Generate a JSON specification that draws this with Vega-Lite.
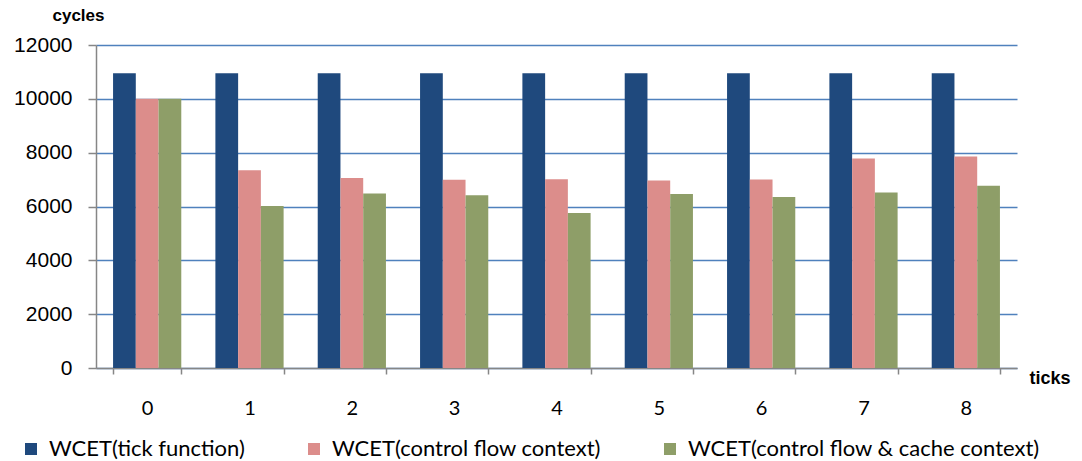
{
  "$schema": "https://vega.github.io/schema/vega-lite/v6.json",
  "width": 921,
  "height": 323,
  "autosize": "none",
  "padding": {"left": 96, "top": 45, "right": 65, "bottom": 93},
  "background": "white",
  "config": {"view": {"stroke": null}, "font": "Liberation Sans"},
  "data": {
    "values": [
      {"tick": "0", "series": "WCET(tick function)", "value": 10950},
      {"tick": "0", "series": "WCET(control flow context)", "value": 10000},
      {"tick": "0", "series": "WCET(control flow & cache context)", "value": 10000},
      {"tick": "1", "series": "WCET(tick function)", "value": 10950},
      {"tick": "1", "series": "WCET(control flow context)", "value": 7350},
      {"tick": "1", "series": "WCET(control flow & cache context)", "value": 6020},
      {"tick": "2", "series": "WCET(tick function)", "value": 10950},
      {"tick": "2", "series": "WCET(control flow context)", "value": 7060},
      {"tick": "2", "series": "WCET(control flow & cache context)", "value": 6480},
      {"tick": "3", "series": "WCET(tick function)", "value": 10950},
      {"tick": "3", "series": "WCET(control flow context)", "value": 6990},
      {"tick": "3", "series": "WCET(control flow & cache context)", "value": 6420},
      {"tick": "4", "series": "WCET(tick function)", "value": 10950},
      {"tick": "4", "series": "WCET(control flow context)", "value": 7010},
      {"tick": "4", "series": "WCET(control flow & cache context)", "value": 5760},
      {"tick": "5", "series": "WCET(tick function)", "value": 10950},
      {"tick": "5", "series": "WCET(control flow context)", "value": 6970},
      {"tick": "5", "series": "WCET(control flow & cache context)", "value": 6460},
      {"tick": "6", "series": "WCET(tick function)", "value": 10950},
      {"tick": "6", "series": "WCET(control flow context)", "value": 7000},
      {"tick": "6", "series": "WCET(control flow & cache context)", "value": 6350},
      {"tick": "7", "series": "WCET(tick function)", "value": 10950},
      {"tick": "7", "series": "WCET(control flow context)", "value": 7780},
      {"tick": "7", "series": "WCET(control flow & cache context)", "value": 6520},
      {"tick": "8", "series": "WCET(tick function)", "value": 10950},
      {"tick": "8", "series": "WCET(control flow context)", "value": 7860},
      {"tick": "8", "series": "WCET(control flow & cache context)", "value": 6770}
    ]
  },
  "mark": {"type": "bar"},
  "encoding": {
    "x": {
      "field": "tick",
      "type": "ordinal",
      "scale": {"paddingInner": 0.3333, "paddingOuter": 0.1667},
      "axis": {
        "title": "ticks",
        "labelAngle": 0,
        "tickBand": "extent",
        "domainColor": "#868686",
        "domainWidth": 1.5,
        "tickColor": "#868686",
        "tickWidth": 1.5,
        "tickSize": 6,
        "labelFont": "Lato",
        "labelFontSize": 20,
        "labelColor": "#000000",
        "labelPadding": 24,
        "titleFont": "Liberation Sans",
        "titleFontWeight": "bold",
        "titleFontSize": 18,
        "titleColor": "#000000",
        "titleAlign": "left",
        "titleBaseline": "alphabetic",
        "titleX": 933,
        "titleY": 15
      }
    },
    "xOffset": {
      "field": "series",
      "sort": ["WCET(tick function)", "WCET(control flow context)", "WCET(control flow & cache context)"]
    },
    "y": {
      "field": "value",
      "type": "quantitative",
      "scale": {"domain": [0, 12000], "nice": false},
      "axis": {
        "values": [0, 2000, 4000, 6000, 8000, 10000, 12000],
        "format": "d",
        "title": "cycles",
        "titleAngle": 0,
        "titleFont": "Liberation Sans",
        "titleFontWeight": "bold",
        "titleFontSize": 17,
        "titleColor": "#000000",
        "titleAlign": "center",
        "titleBaseline": "alphabetic",
        "titleX": -18,
        "titleY": -25,
        "gridColor": "#4F81BD",
        "gridWidth": 1.5,
        "domainColor": "#868686",
        "domainWidth": 1.5,
        "tickColor": "#868686",
        "tickWidth": 1.5,
        "tickSize": 8,
        "labelFont": "Liberation Sans",
        "labelFontSize": 21,
        "labelColor": "#000000",
        "labelPadding": 16
      }
    },
    "color": {
      "field": "series",
      "type": "nominal",
      "sort": ["WCET(tick function)", "WCET(control flow context)", "WCET(control flow & cache context)"],
      "scale": {"range": ["#1F497D", "#DC8D8B", "#8E9E68"]},
      "legend": {
        "title": null,
        "orient": "none",
        "direction": "horizontal",
        "legendX": -76,
        "legendY": 393,
        "padding": 0,
        "symbolType": "square",
        "symbolSize": 144,
        "symbolStrokeWidth": 0,
        "labelFont": "Lato",
        "labelFontSize": 22,
        "labelColor": "#000000",
        "labelOffset": 7,
        "labelLimit": 600,
        "columnPadding": 58
      }
    }
  }
}
